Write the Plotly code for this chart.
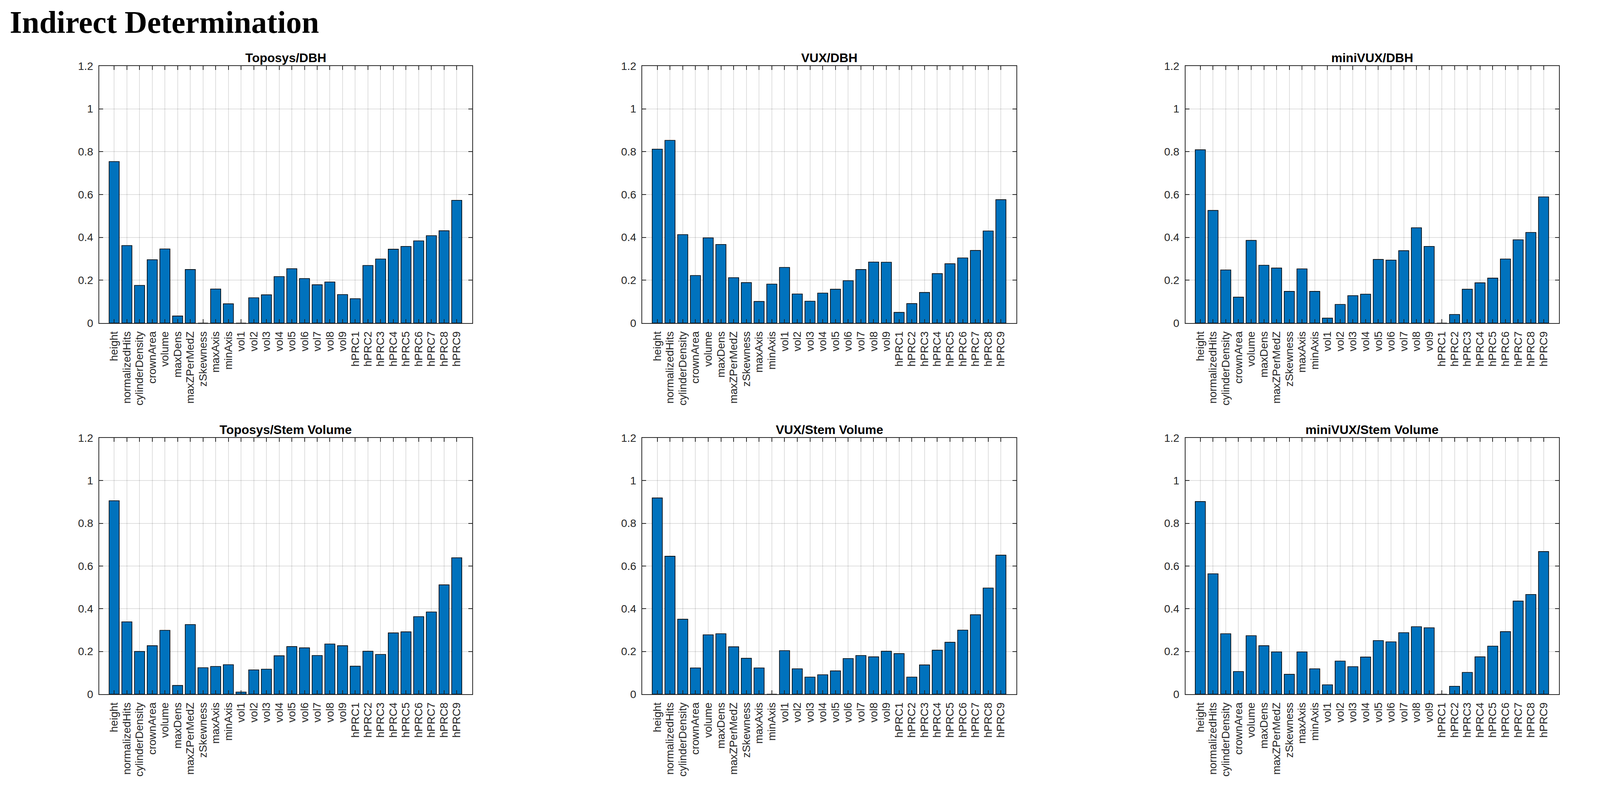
import plotly.graph_objects as go

categories = ["height", "normalizedHits", "cylinderDensity", "crownArea", "volume", "maxDens",
              "maxZPerMedZ", "zSkewness", "maxAxis", "minAxis", "vol1", "vol2", "vol3", "vol4",
              "vol5", "vol6", "vol7", "vol8", "vol9", "hPRC1", "hPRC2", "hPRC3", "hPRC4",
              "hPRC5", "hPRC6", "hPRC7", "hPRC8", "hPRC9"]

toposys_dbh = [0.754, 0.362, 0.176, 0.296, 0.346, 0.033, 0.250, 0.0, 0.159, 0.090,
               0.0, 0.118, 0.132, 0.217, 0.254, 0.208, 0.179, 0.192, 0.133,
               0.114, 0.269, 0.299, 0.345, 0.358, 0.384, 0.408, 0.431, 0.573]
vux_dbh = [0.812, 0.853, 0.413, 0.222, 0.398, 0.367, 0.212, 0.189, 0.101, 0.182,
           0.260, 0.136, 0.102, 0.140, 0.158, 0.198, 0.250, 0.285, 0.284,
           0.050, 0.091, 0.143, 0.231, 0.277, 0.304, 0.339, 0.430, 0.576]
minivux_dbh = [0.809, 0.526, 0.248, 0.121, 0.386, 0.270, 0.257, 0.148, 0.253, 0.148,
               0.023, 0.087, 0.128, 0.135, 0.297, 0.294, 0.338, 0.445, 0.358,
               0.0, 0.040, 0.158, 0.188, 0.210, 0.299, 0.389, 0.423, 0.589]
toposys_sv = [0.906, 0.339, 0.200, 0.227, 0.299, 0.041, 0.326, 0.124, 0.130, 0.138,
              0.010, 0.114, 0.117, 0.180, 0.223, 0.217, 0.181, 0.235, 0.227,
              0.131, 0.201, 0.186, 0.287, 0.292, 0.363, 0.385, 0.512, 0.639]
vux_sv = [0.919, 0.646, 0.351, 0.123, 0.278, 0.283, 0.222, 0.168, 0.123, 0.0,
          0.204, 0.119, 0.080, 0.091, 0.109, 0.167, 0.181, 0.175, 0.201,
          0.190, 0.080, 0.137, 0.206, 0.243, 0.300, 0.372, 0.497, 0.651]
minivux_sv = [0.902, 0.564, 0.283, 0.106, 0.274, 0.227, 0.198, 0.093, 0.198, 0.119,
              0.044, 0.155, 0.129, 0.174, 0.251, 0.245, 0.288, 0.316, 0.311,
              0.0, 0.037, 0.102, 0.175, 0.225, 0.293, 0.436, 0.467, 0.668]

panel_titles = ["Toposys/DBH", "VUX/DBH", "miniVUX/DBH",
                "Toposys/Stem Volume", "VUX/Stem Volume", "miniVUX/Stem Volume"]
panel_values = [toposys_dbh, vux_dbh, minivux_dbh, toposys_sv, vux_sv, minivux_sv]
y_tickvals = [0, 0.2, 0.4, 0.6, 0.8, 1.0, 1.2]
y_ticktext = ["0", "0.2", "0.4", "0.6", "0.8", "1", "1.2"]
main_title = "Indirect Determination"

# reference pixel grid used to place the panels (fractions of the page)
W, H = 4172, 2030
x_doms = [(259, 1231), (1675, 2650), (3091, 4065)]
y_doms = [(169, 827), (1121, 1777)]  # top, bottom in pixels from top

fig = go.Figure()
font_family = "Liberation Sans, Arial, Helvetica, sans-serif"
axis_color = "#262626"
grid_color = "rgba(38,38,38,0.15)"

layout = dict(
    autosize=True,
    margin=dict(l=0, r=0, t=0, b=0, pad=0),
    paper_bgcolor="white", plot_bgcolor="white",
    showlegend=False,
    annotations=[],
)

for i, (title, vals) in enumerate(zip(panel_titles, panel_values)):
    r, c = divmod(i, 3)
    n = i + 1
    xa = "x" if n == 1 else f"x{n}"
    ya = "y" if n == 1 else f"y{n}"
    fig.add_trace(go.Bar(
        x=categories, y=vals, xaxis=xa, yaxis=ya,
        marker=dict(color="#0072BD", line=dict(color="black", width=1.6)),
        width=0.8,
    ))
    x0, x1 = x_doms[c]
    top, bot = y_doms[r]
    layout[f"xaxis{n}"] = dict(
        domain=[x0 / W, x1 / W], anchor=ya,
        type="category", range=[-1.17, len(categories) - 1 + 1.21],
        tickmode="array", tickvals=categories, ticktext=categories,
        showline=True, linecolor=axis_color, linewidth=2, mirror="ticks",
        ticks="inside", ticklen=10, tickwidth=2, tickcolor=axis_color,
        showgrid=True, gridcolor=grid_color, gridwidth=2,
        tickangle=-90, tickfont=dict(family=font_family, size=28, color=axis_color),
        ticklabelstandoff=8, automargin=False, fixedrange=True,
    )
    layout[f"yaxis{n}"] = dict(
        domain=[1 - bot / H, 1 - top / H], anchor=xa,
        range=[0, 1.2], tickmode="array", tickvals=y_tickvals, ticktext=y_ticktext,
        showline=True, linecolor=axis_color, linewidth=2, mirror="ticks",
        ticks="inside", ticklen=10, tickwidth=2, tickcolor=axis_color,
        showgrid=True, gridcolor=grid_color, gridwidth=2, zeroline=False,
        tickfont=dict(family=font_family, size=28, color=axis_color),
        ticklabelstandoff=8, automargin=False, fixedrange=True,
    )
    layout["annotations"].append(dict(
        text=f"<b>{title}</b>", xref="paper", yref="paper",
        x=(x0 + x1) / 2 / W, y=1 - (top - 21) / H,
        xanchor="center", yanchor="middle", showarrow=False,
        font=dict(family=font_family, size=32, color="black"),
    ))

layout["annotations"].append(dict(
    text=f"<b>{main_title}</b>", xref="paper", yref="paper",
    x=23 / W, y=1 - 57 / H, xanchor="left", yanchor="middle", showarrow=False,
    font=dict(family="Liberation Serif, Times New Roman, serif", size=80, color="black"),
))

fig.update_layout(**layout)

post_js = (
    "document.documentElement.style.margin='0';"
    "document.documentElement.style.overflow='hidden';"
    "document.body.style.margin='0';"
    "document.body.style.padding='0';"
    "document.body.style.overflow='hidden';"
    "var gd=document.getElementById('{plot_id}');"
    "gd.style.width='100vw';gd.style.height='100vh';"
    "Plotly.Plots.resize(gd);"
)
fig.write_html("out.html", default_width="100vw", default_height="100vh",
               config={"responsive": True, "displayModeBar": False},
               post_script=post_js)
